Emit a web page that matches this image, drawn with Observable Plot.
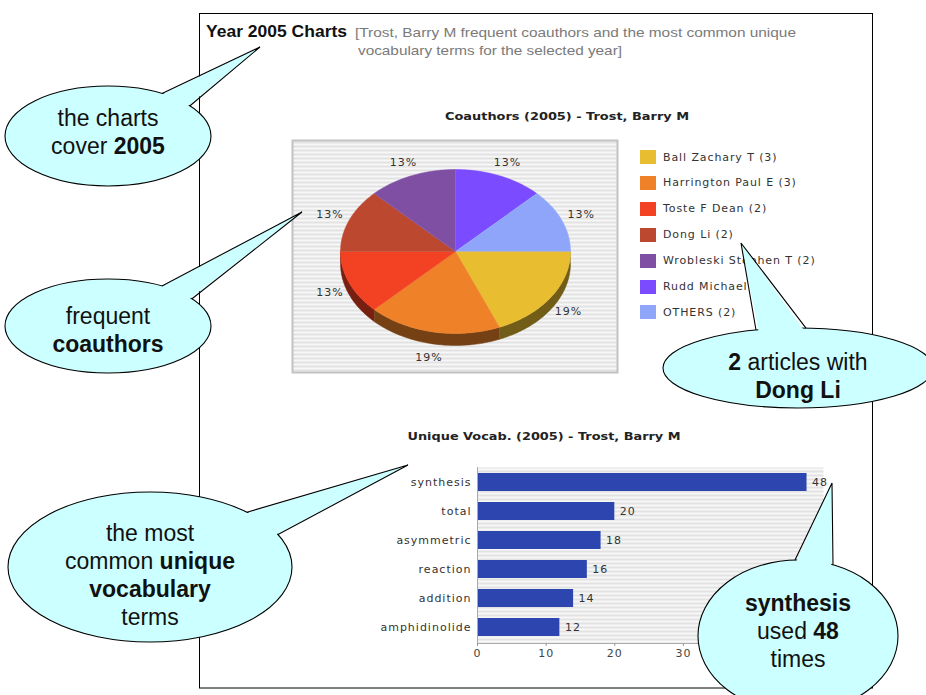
<!DOCTYPE html>
<html><head><meta charset="utf-8">
<script src="https://cdn.jsdelivr.net/npm/d3@7"></script>
<script src="https://cdn.jsdelivr.net/npm/@observablehq/plot@0.6"></script>
<style>
body{margin:0;background:#fff;}
#page{position:relative;width:926px;height:695px;overflow:hidden;font-family:"DejaVu Sans",sans-serif;}
.abs{position:absolute;}
.leg{position:absolute;left:640px;height:14px;display:flex;align-items:center;font:11px "DejaVu Sans";letter-spacing:0.9px;color:#333;white-space:nowrap;}
.leg span.sw{display:inline-block;width:16px;height:14px;margin-right:7px;}
</style></head><body>
<svg width="0" height="0" style="position:absolute;left:0;top:0">
<defs>
<pattern id="stripes" patternUnits="userSpaceOnUse" width="8" height="4">
<rect width="8" height="4" fill="#f7f7f7"/>
<rect y="2" width="8" height="2" fill="#e2e2e2"/>
</pattern></defs></svg>
<div id="page"></div>
<script>
// ---- data ----
const pageTitle = "Year 2005 Charts";
const pageSubtitle1 = "[Trost, Barry M frequent coauthors and the most common unique";
const pageSubtitle2 = "vocabulary terms for the selected year]";
const pieTitle = "Coauthors (2005) - Trost, Barry M";
const barTitle = "Unique Vocab. (2005) - Trost, Barry M";
const coauthors = ["Ball Zachary T","Harrington Paul E","Toste F Dean","Dong Li","Wrobleski Stephen T","Rudd Michael","OTHERS"];
const articleCounts = [3,3,2,2,2,2,2];
const sliceColors = ["#e8bd30","#ef8229","#f24123","#bd4830","#7f4fa3","#7a4bff","#8fa5f9"];
const vocabTerms = ["synthesis","total","asymmetric","reaction","addition","amphidinolide"];
const vocabCounts = [48,20,18,16,14,12];
const xTicks = [0,10,20,30,40];

const coData = coauthors.map((name,i)=>({name, count:articleCounts[i], color:sliceColors[i]}));
const total = d3.sum(articleCounts);
const vocab = vocabTerms.map((term,i)=>({term, count:vocabCounts[i]}));

const page = d3.select("#page");

// ---- page frame and titles ----
const bg = page.append("svg").attr("class","abs").style("left","0px").style("top","0px")
  .attr("width",926).attr("height",695);
bg.append("rect").attr("x",199.5).attr("y",13.5).attr("width",673).attr("height",674.5)
  .attr("fill","#fff").attr("stroke","#000");
bg.append("text").attr("x",206).attr("y",37).attr("font-family","Liberation Sans, Arial, sans-serif")
  .attr("font-weight","bold").attr("font-size",16).attr("textLength",141).attr("lengthAdjust","spacingAndGlyphs")
  .attr("fill","#111").text(pageTitle);
bg.append("text").attr("x",355).attr("y",37).attr("font-family","Liberation Sans, Arial, sans-serif")
  .attr("font-size",13).attr("textLength",441).attr("lengthAdjust","spacingAndGlyphs")
  .attr("fill","#7a7a7a").text(pageSubtitle1);
bg.append("text").attr("x",358).attr("y",55).attr("font-family","Liberation Sans, Arial, sans-serif")
  .attr("font-size",13).attr("textLength",264).attr("lengthAdjust","spacingAndGlyphs")
  .attr("fill","#7a7a7a").text(pageSubtitle2);
bg.append("text").attr("x",567).attr("y",120).attr("text-anchor","middle").attr("font-family","DejaVu Sans")
  .attr("font-weight","bold").attr("font-size",11).attr("textLength",244).attr("lengthAdjust","spacingAndGlyphs")
  .attr("fill","#222").text(pieTitle);
bg.append("text").attr("x",544).attr("y",440).attr("text-anchor","middle").attr("font-family","DejaVu Sans")
  .attr("font-weight","bold").attr("font-size",11).attr("textLength",273).attr("lengthAdjust","spacingAndGlyphs")
  .attr("fill","#222").text(barTitle);

// ---- 3D pie ----
const RX = 115, RY = 82, DEPTH = 12;
const arcs = d3.pie().sort(null).value(d=>d.count).startAngle(Math.PI/2).endAngle(Math.PI/2 + 2*Math.PI)(coData);
const pt = (a, dy=0) => ({x: RX*Math.sin(a), y: RY*Math.cos(a) - dy});
const steps = (a0,a1) => { const n = Math.max(2, Math.ceil((a1-a0)/(Math.PI/180))); return d3.range(n+1).map(i=>a0+(a1-a0)*i/n); };
const pieMarks = [Plot.frame({fill:"url(#stripes)", stroke:"#c2c2c2", strokeWidth:2, inset:1})];
// sides (front half only)
arcs.forEach(s=>{
  const b0 = Math.max(s.startAngle, Math.PI/2), b1 = Math.min(s.endAngle, 3*Math.PI/2);
  if (b1 > b0) {
    const as = steps(b0,b1);
    const rows = as.map(a=>pt(a)).concat(as.slice().reverse().map(a=>pt(a,DEPTH)));
    const dark = d3.color(s.data.color).darker(2).formatHex();
    pieMarks.push(Plot.line(rows, {x:"x", y:"y", fill:dark, stroke:dark, strokeWidth:0.5}));
  }
});
// tops
arcs.forEach(s=>{
  const rows = [{x:0,y:0}].concat(steps(s.startAngle,s.endAngle).map(a=>pt(a)));
  pieMarks.push(Plot.line(rows, {x:"x", y:"y", fill:s.data.color, stroke:s.data.color, strokeWidth:0.5}));
});
// labels
const labelRows = arcs.map(s=>{
  const a = (s.startAngle+s.endAngle)/2, c = Math.cos(a);
  return {x: 136*Math.sin(a), y: c*(c>0 ? 96 : 108), label: Math.round(100*s.data.count/total)+"%"};
});
pieMarks.push(Plot.text(labelRows, {x:"x", y:"y", text:"label", fill:"#333", fontSize:11}));

const pieSvg = Plot.plot({
  width:327, height:234, margin:0,
  x:{domain:[-164,163], axis:null},
  y:{domain:[-122,112], axis:null},
  style:{fontFamily:"DejaVu Sans", letterSpacing:"1px", background:"transparent", overflow:"visible"},
  marks: pieMarks
});
d3.select(pieSvg).attr("class","abs").style("left","291px").style("top","139px");
page.node().appendChild(pieSvg);

// legend
coData.forEach((d,i)=>{
  const row = page.append("div").attr("class","leg").style("top",(150 + i*25.9)+"px");
  row.append("span").attr("class","sw").style("background",d.color);
  row.append("span").text(`${d.name} (${d.count})`);
});

// ---- bar chart ----
const barSvg = Plot.plot({
  width:480, height:205, marginLeft:117, marginRight:17, marginTop:7, marginBottom:22,
  x:{domain:[0,50.4]},
  y:{domain:vocabTerms, paddingInner:0.37, paddingOuter:0.2},
  style:{fontFamily:"DejaVu Sans", fontSize:"11px", letterSpacing:"1px", background:"transparent", overflow:"visible"},
  marks:[
    Plot.frame({fill:"url(#stripes)"}),
    Plot.barX(vocab, {x:"count", y:"term", fill:"#2d45ae"}),
    Plot.text(vocab, {x:"count", y:"term", text:d=>String(d.count), dx:5, textAnchor:"start", fill:"#333"}),
    Plot.ruleX([0], {stroke:"#aaa"}),
    Plot.frame({anchor:"bottom", stroke:"#aaa"}),
    Plot.axisX({ticks:xTicks, tickSize:3, tickPadding:3, stroke:"#999", fill:"#444", label:null}),
    Plot.axisY({tickSize:0, tickPadding:6, fill:"#333", label:null})
  ]
});
d3.select(barSvg).attr("class","abs").style("left","360px").style("top","460px");
page.node().appendChild(barSvg);

// ---- callouts ----
const callouts = [
  {cx:108, cy:136, rx:103, ry:50, tip:[260,47], base:[162,190], lines:[[["the charts",0]],[["cover ",0],["2005",1]]], y0:118},
  {cx:108, cy:326, rx:103, ry:47, tip:[302,212], base:[162,192], lines:[[["frequent",0]],[["coauthors",1]]], y0:316},
  {cx:150, cy:567, rx:142, ry:75, tip:[408,465], base:[247,278], lines:[[["the most",0]],[["common ",0],["unique",1]],[["vocabulary",1]],[["terms",0]]], y0:533},
  {cx:798, cy:368, rx:135, ry:40, tip:[741,243], base:[756,806], lines:[[["2",1],[" articles with",0]],[["Dong Li",1]]], y0:362},
  {cx:798, cy:636, rx:100, ry:76, tip:[832,483], base:[795,833], lines:[[["synthesis",1]],[["used ",0],["48",1]],[["times",0]]], y0:603}
];
const ov = page.append("svg").attr("class","abs").style("left","0px").style("top","0px")
  .attr("width",926).attr("height",695).style("pointer-events","none");
callouts.forEach(c=>{
  const onE = x => [x, c.cy - c.ry*Math.sqrt(Math.max(0,1-((x-c.cx)/c.rx)**2))];
  const inset = p => { const dx=c.cx-p[0], dy=c.cy-p[1], L=Math.hypot(dx,dy); return [p[0]+dx/L*4, p[1]+dy/L*4]; };
  const b1 = onE(c.base[0]), b2 = onE(c.base[1]);
  ov.append("ellipse").attr("cx",c.cx).attr("cy",c.cy).attr("rx",c.rx).attr("ry",c.ry)
    .attr("fill","#ccffff").attr("stroke","#000").attr("stroke-width",1.1);
  ov.append("path").attr("d",`M${inset(b1)}L${c.tip}L${inset(b2)}Z`).attr("fill","#ccffff");
  ov.append("path").attr("d",`M${b1}L${c.tip}L${b2}`).attr("fill","none").attr("stroke","#000").attr("stroke-width",1.1);
  c.lines.forEach((segs,i)=>{
    const t = ov.append("text").attr("x",c.cx).attr("y",c.y0 + i*28).attr("text-anchor","middle")
      .attr("dominant-baseline","central").attr("font-family","Liberation Sans, Arial, sans-serif")
      .attr("font-size",23).attr("fill","#111");
    segs.forEach(([s,b])=>t.append("tspan").attr("font-weight",b?"bold":"normal").text(s));
  });
});
</script>
</body></html>
